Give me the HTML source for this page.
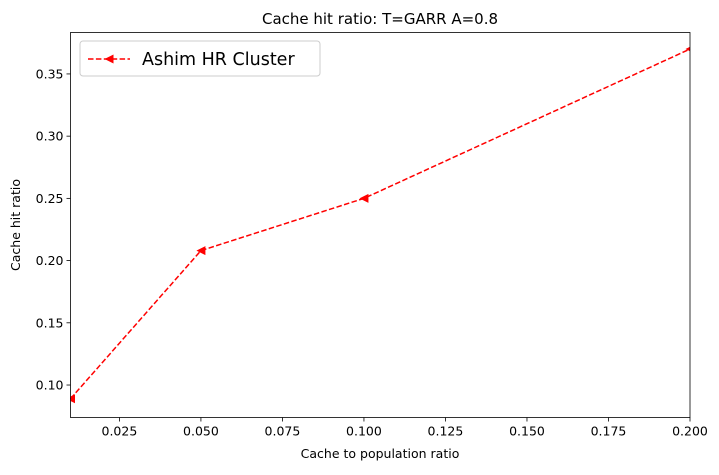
<!DOCTYPE html>
<html><head><meta charset="utf-8"><style>
body{margin:0;background:#fff;font-family:"Liberation Sans","DejaVu Sans",sans-serif}
svg text{font-family:"DejaVu Sans","Liberation Sans",sans-serif;fill:#000}
</style></head><body>
<svg id="chart" width="719" height="470"></svg>
<script>
const categories=[0.01,0.05,0.1,0.2];
const hitRatio=[0.089,0.208,0.25,0.37];
const xTicks=[0.025,0.050,0.075,0.100,0.125,0.150,0.175,0.200];
const xTickLabels=["0.025","0.050","0.075","0.100","0.125","0.150","0.175","0.200"];
const yTicks=[0.10,0.15,0.20,0.25,0.30,0.35];
const yTickLabels=["0.10","0.15","0.20","0.25","0.30","0.35"];
const L=70.5,R=690,T=32.5,B=417.5,xmin=0.01,xmax=0.2,ymin=0.0739,ymax=0.3833;
const sx=v=>L+(v-xmin)/(xmax-xmin)*(R-L);
const sy=v=>B-(v-ymin)/(ymax-ymin)*(B-T);
const svg=document.getElementById('chart');const NS='http://www.w3.org/2000/svg';
function mk(t,a,txt){const e=document.createElementNS(NS,t);for(const k in a)e.setAttribute(k,a[k]);if(txt!==undefined)e.textContent=txt;svg.appendChild(e);return e;}
xTicks.forEach((v,i)=>{const x=sx(v);
const t=mk('line',{x1:x,x2:x,y1:B,y2:B+4,stroke:'#000','stroke-width':0.8});

const l=mk('text',{x:x,y:B+18,'font-size':12.5,'text-anchor':'middle'},xTickLabels[i]);
});
yTicks.forEach((v,i)=>{const y=sy(v);
const t=mk('line',{x1:L-4,x2:L,y1:y,y2:y,stroke:'#000','stroke-width':0.8});

const l=mk('text',{x:L-7,y:y+4.5,'font-size':12.5,'text-anchor':'end'},yTickLabels[i]);
});
const line=mk('polyline',{points:categories.map((c,i)=>sx(c)+','+sy(hitRatio[i])).join(' '),fill:'none',stroke:'#f00','stroke-width':1.5,'stroke-dasharray':'5.5,2.4'});

categories.forEach((c,i)=>{const x=sx(c),y=sy(hitRatio[i]);
const m=mk('polygon',{points:`${x-4.5},${y} ${x+4.5},${y-4.5} ${x+4.5},${y+4.5}`,fill:'#f00','clip-path':'url(#clip)'});
});
const defs=document.createElementNS(NS,'defs');defs.innerHTML=`<clipPath id="clip"><rect x="${L}" y="${T}" width="${R-L}" height="${B-T}"/></clipPath>`;svg.prepend(defs);
const f=mk('rect',{x:L,y:T,width:R-L,height:B-T,fill:'none',stroke:'#000','stroke-width':0.8});

</script>
<svg style="position:absolute;left:0;top:0" width="719" height="470">
<text x="380" y="24" font-size="15" text-anchor="middle">Cache hit ratio: T=GARR A=0.8</text>
<text x="380" y="458" font-size="12.5" text-anchor="middle">Cache to population ratio</text>
<text x="0" y="0" font-size="12.5" text-anchor="middle" transform="translate(20,225) rotate(-90)">Cache hit ratio</text>
<g>
<rect x="80" y="41" width="240" height="35" rx="3" fill="#fff" stroke="#ccc" stroke-width="1"/>
<line x1="88" x2="130" y1="59" y2="59" stroke="#f00" stroke-width="1.5" stroke-dasharray="5.5,2.4"/>
<polygon points="104.5,59 113.5,54.5 113.5,63.5" fill="#f00"/>
<text x="142" y="65" font-size="17.5">Ashim HR Cluster</text>
</g>
</svg>
</body></html>
